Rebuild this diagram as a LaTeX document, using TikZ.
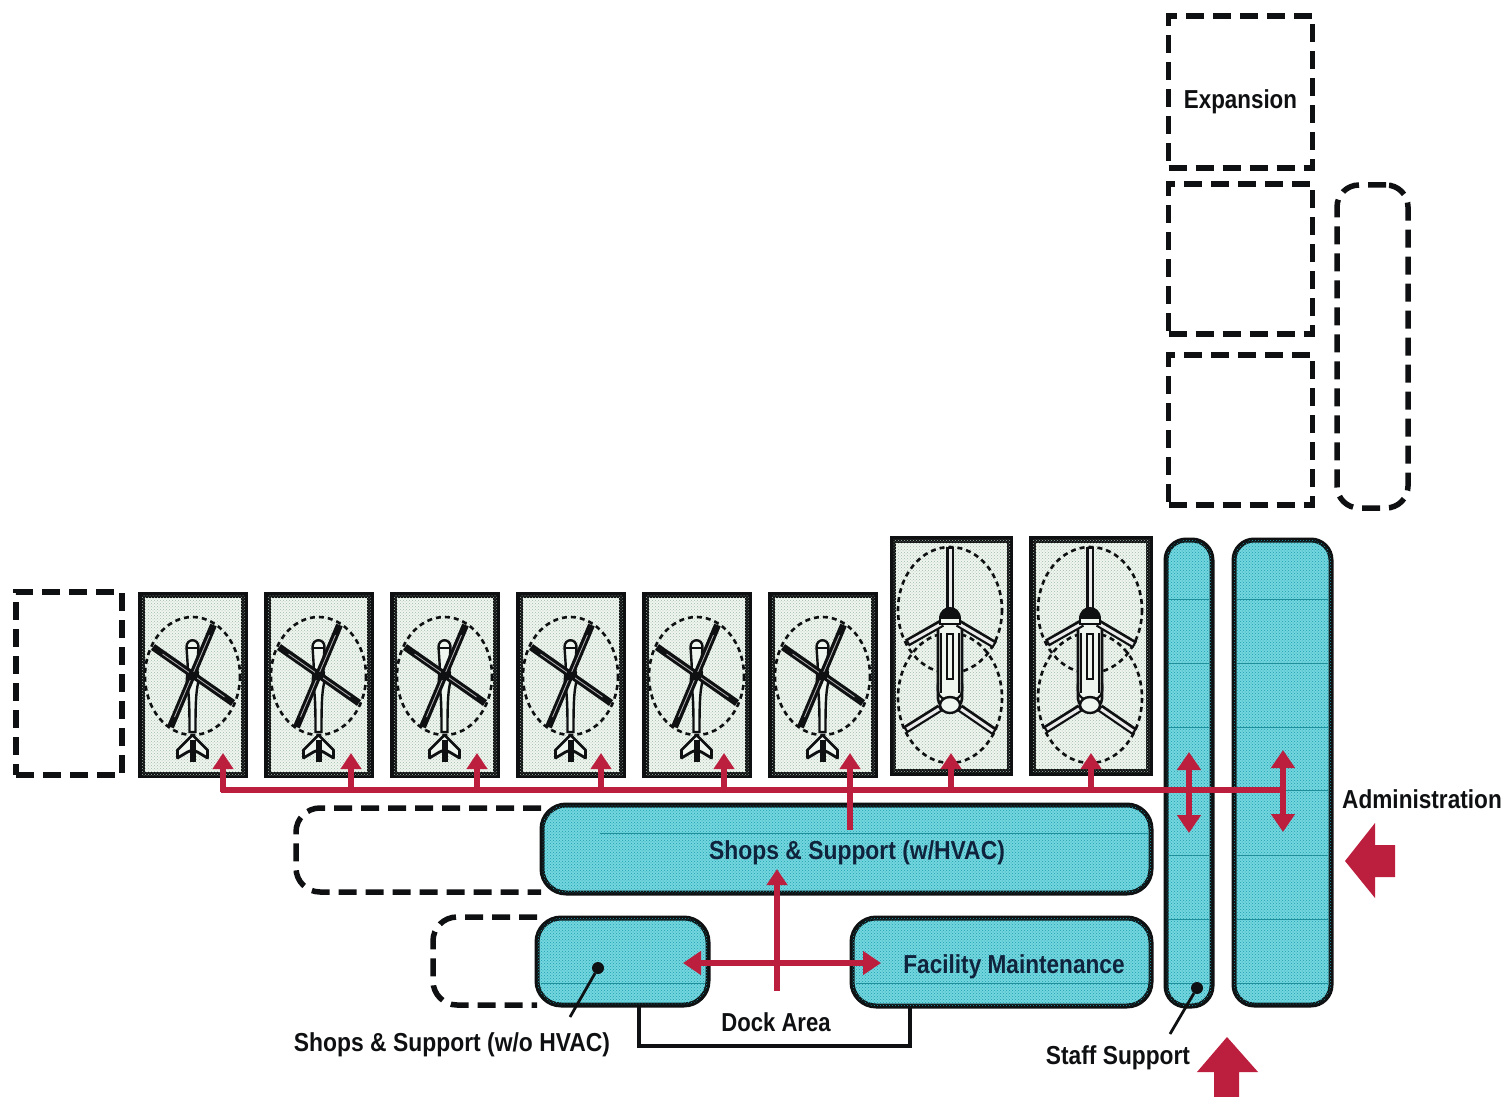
\documentclass[tikz,border=0pt]{standalone}
\usepackage{fontspec}
\setmainfont{Liberation Sans}
\usetikzlibrary{arrows.meta,patterns}
\definecolor{crim}{HTML}{BC1E3E}
\definecolor{inkk}{HTML}{0F1012}
\definecolor{inkn}{HTML}{10233C}
\definecolor{tealbase}{HTML}{74D6DE}
\definecolor{tealdot}{HTML}{1E9FAE}
\definecolor{tealline}{HTML}{1F8F9C}
\definecolor{hangbase}{HTML}{EFF6EF}
\definecolor{hangdot}{HTML}{A3B9AA}
\tikzset{
  x=1pt,y=-1pt,
  every node/.style={inner sep=0pt,outer sep=0pt},
  hangar/.style={draw=inkk,line width=6.5pt,fill=hangbase,rectangle,
     postaction={pattern=crosshatch dots,pattern color=hangdot}},
  smallbay/.style={hangar,minimum width=103pt,minimum height=180pt},
  bigbay/.style={hangar,minimum width=117pt,minimum height=233pt},
  room/.style={draw=inkk,line width=5pt,fill=tealbase,rectangle,
     postaction={pattern=crosshatch dots,pattern color=tealdot}},
  dashbox/.style={draw=inkk,line width=5.5pt,dash pattern=on 18pt off 9pt},
  dashopen/.style={dashbox,rounded corners=24pt},
  redline/.style={draw=crim,line width=5.5pt},
  redtip/.style={redline,-{Triangle[width=20pt,length=16pt]}},
  redboth/.style={redline,{Triangle[width=23pt,length=18pt]}-{Triangle[width=23pt,length=18pt]}},
  bigarrow/.style={fill=crim,draw=none},
  lbl/.style={font=\fontsize{26}{28}\selectfont\bfseries,text=inkk},
  lblin/.style={font=\fontsize{26}{28}\selectfont\bfseries,text=inkn},
  gridl/.style={draw=tealline,line width=1pt},
  leader/.style={draw=inkk,line width=2.8pt},
  leaddot/.style={circle,fill=inkk,minimum size=12pt},
  rotor/.style={draw=inkk,line width=7pt},
  rotorin/.style={draw=white!70!inkk,line width=.8pt},
  twinblade/.style={draw=inkk,line width=8pt},
  twinin/.style={draw=white!92!black,line width=3pt},
  rotordash/.style={draw=inkk,line width=2.6pt,dash pattern=on 5pt off 4pt},
  heli/.pic={
    \draw[rotordash] (0,0) circle[x radius=47.5,y radius=59];
    % fuselage
    \draw[inkk,line width=2.4pt,fill=hangbase]
      (-6,-29) .. controls (-6,-38) and (6,-38) .. (6,-29)
      -- (5,-14) .. controls (4,-4) and (7,2) .. (5,10)
      .. controls (3,20) and (3,40) .. (3,56) -- (-3,56)
      .. controls (-3,40) and (-3,20) .. (-5,10)
      .. controls (-7,2) and (-4,-4) .. (-5,-14) -- cycle;
    \draw[inkk,line width=1.8pt] (-6,-28) -- (6,-28);
    \draw[rotor] (-39.5,-29) -- (40.5,27);
    \draw[rotorin] (-30,-22) -- (32,21);
    \draw[rotor] (21,-51) -- (-22,51);
    \draw[rotorin] (17,-41) -- (-18,41);
    \fill[inkk] (-4,-4) rectangle (4,4);
    % tail
    \draw[inkk,line width=2.8pt,fill=hangbase,line join=round]
      (0,59) -- (-15,74) -- (-15,82) -- (-5,76) -- (0,74) -- (5,76) -- (15,82) -- (15,74) -- cycle;
    \draw[inkk,line width=6pt] (0,64) -- (0,86);
  },
  chinook/.pic={
    \draw[rotordash] (0,-39) circle[x radius=52,y radius=63];
    \draw[rotordash] (0,49) circle[x radius=52,y radius=65];
    \draw[inkk,line width=2.6pt,fill=hangbase] (-12,-26) -- (-12,50) .. controls (-12,62) and (12,62) .. (12,50) -- (12,-26) -- cycle;
    \draw[twinblade] (0,-39) -- (0,-102);
    \draw[twinin] (0,-40) -- (0,-100);
    \draw[twinblade] (-8,-26) -- (-43,-6);
    \draw[twinin] (-9,-25) -- (-41,-7);
    \draw[twinblade] (8,-26) -- (45,-4);
    \draw[twinin] (9,-25) -- (43,-5);
    \draw[twinblade] (-10,59) -- (-45,81);
    \draw[twinin] (-11,60) -- (-43,80);
    \draw[twinblade] (10,59) -- (45,83);
    \draw[twinin] (11,60) -- (43,82);
    \fill[inkk] (-11,-30) .. controls (-11,-46) and (11,-46) .. (11,-30) -- cycle;
    \draw[inkk,line width=2pt,fill=hangbase] (-10,-31) rectangle (10,-25);
    \draw[inkk,line width=2.2pt] (-3,-15) rectangle (3,30);
    \draw[inkk,line width=2.2pt] (-9,-16) -- (-9,44) (9,-16) -- (9,44);
    \draw[inkk,line width=2.2pt] (-12,34) .. controls (-14,46) and (-8,50) .. (-5,50) (12,34) .. controls (14,46) and (8,50) .. (5,50);
    \draw[inkk,line width=2.4pt,fill=hangbase] (0,56) circle[x radius=10,y radius=8];
  }
}
\begin{document}
\begin{tikzpicture}
\useasboundingbox (0,0) rectangle (1508,1097);

% dashed expansion blocks
\node[dashbox,rectangle,minimum width=144pt,minimum height=152pt] (expa) at (1240.5,92) {};
\node[dashbox,rectangle,minimum width=144pt,minimum height=150pt] (expb) at (1240.5,259) {};
\node[dashbox,rectangle,minimum width=144pt,minimum height=150pt] (expc) at (1240.5,430) {};
\node[dashbox,rectangle,rounded corners=22pt,minimum width=71pt,minimum height=323pt] (expd) at (1372.5,346.5) {};
\node[dashbox,rectangle,minimum width=106pt,minimum height=183pt] (expe) at (69,683.5) {};
\draw[dashopen] (541,808) -- (296,808) -- (296,892) -- (541,892);
\draw[dashopen] (537,917) -- (433,917) -- (433,1005) -- (537,1005);

% bays
\node[smallbay] (b1) at (193,685) {};
\node[smallbay] (b2) at (319,685) {};
\node[smallbay] (b3) at (445,685) {};
\node[smallbay] (b4) at (571,685) {};
\node[smallbay] (b5) at (697,685) {};
\node[smallbay] (b6) at (823,685) {};
\node[bigbay] (b7) at (951.5,656) {};
\node[bigbay] (b8) at (1091,656) {};
\foreach \hx in {192.5,318.5,444.5,570.5,696.5,822.5} \pic at (\hx,676) {heli};
\pic at (950,649) {chinook};
\pic at (1090,649) {chinook};

% teal rooms
\node[room,rounded corners=24pt,minimum width=609pt,minimum height=88pt] (shopsa) at (846.5,849) {};
\node[room,rounded corners=24pt,minimum width=171pt,minimum height=87pt] (shopsb) at (622.5,961.5) {};
\node[room,rounded corners=24pt,minimum width=299pt,minimum height=88pt] (fmaint) at (1001.5,962) {};
\node[room,rounded corners=20pt,minimum width=46pt,minimum height=466pt] (staff) at (1189,773) {};
\node[room,rounded corners=20pt,minimum width=97pt,minimum height=465pt] (admin) at (1282.5,772.5) {};

% faint grid in rooms
\foreach \gy in {599,663,727,790,855,919,983} {
  \draw[gridl] (1169,\gy) -- (1209,\gy);
  \draw[gridl] (1237,\gy) -- (1328,\gy);
}
\draw[gridl] (600,833) -- (1148,833);
\draw[gridl] (541,983) -- (705,983);
\draw[gridl] (856,983) -- (1148,983);

% dock
\coordinate (docka) at (639,1005);
\coordinate (dockb) at (639,1046);
\coordinate (dockc) at (910,1046);
\coordinate (dockd) at (910,1006);
\draw[draw=inkk,line width=4.5pt] (docka) -- (dockb) -- (dockc) -- (dockd);

% red circulation
\coordinate (busl) at (221,790);
\coordinate (busr) at (1283,790);
\draw[redline] (busl) -- (busr);
\foreach \ax/\nm in {223/a,351/b,477/c,601/d,724/e,951/g,1091/h} {
  \coordinate (t\nm) at (\ax,753);
  \coordinate (s\nm) at (\ax,792);
  \draw[redtip] (s\nm) -- (t\nm);
}
\coordinate (sf) at (850,830);
\coordinate (tf) at (850,753);
\draw[redtip] (sf) -- (tf);
\coordinate (sa) at (1189,752);
\coordinate (sb) at (1189,833);
\draw[redboth] (sa) -- (sb);
\coordinate (aa) at (1283,750);
\coordinate (ab) at (1283,832);
\draw[redboth] (aa) -- (ab);
\coordinate (dk) at (777,991);
\coordinate (dt) at (777,869);
\draw[redtip] (dk) -- (dt);
\coordinate (dl) at (683,963);
\coordinate (dr) at (881,963);
\draw[redboth] (dl) -- (dr);

% big entry arrows
\fill[bigarrow] (1345,861) -- (1375,823) -- (1375,845) -- (1395,845) -- (1395,877) -- (1375,877) -- (1375,898) -- cycle;
\fill[bigarrow] (1227,1037) -- (1258,1072) -- (1239,1072) -- (1239,1097) -- (1214,1097) -- (1214,1072) -- (1197,1072) -- cycle;

% labels
\node[lbl] (lexp) at (1240.5,102) {\scalebox{.86}[1]{Expansion}};
\node[lbl] (ladm) at (1422,799) {\scalebox{.87}[1]{Administration}};
\node[lblin] (lsh) at (857,853) {\scalebox{.88}[1]{Shops \& Support (w/HVAC)}};
\node[lblin] (lfm) at (1014,967) {\scalebox{.87}[1]{Facility Maintenance}};
\node[lbl] (ldock) at (776,1022) {\scalebox{.85}[1]{Dock Area}};
\node[lbl] (lsw) at (452,1045) {\scalebox{.88}[1]{Shops \& Support (w/o HVAC)}};
\node[lbl] (lst) at (1118,1058) {\scalebox{.875}[1]{Staff Support}};

% leaders
\node[leaddot] (da) at (598,968) {};
\node[leaddot] (db) at (1197,988) {};
\coordinate (la) at (570,1017);
\coordinate (lb) at (1170,1034);
\draw[leader] (da) -- (la);
\draw[leader] (db) -- (lb);
\end{tikzpicture}
\end{document}
